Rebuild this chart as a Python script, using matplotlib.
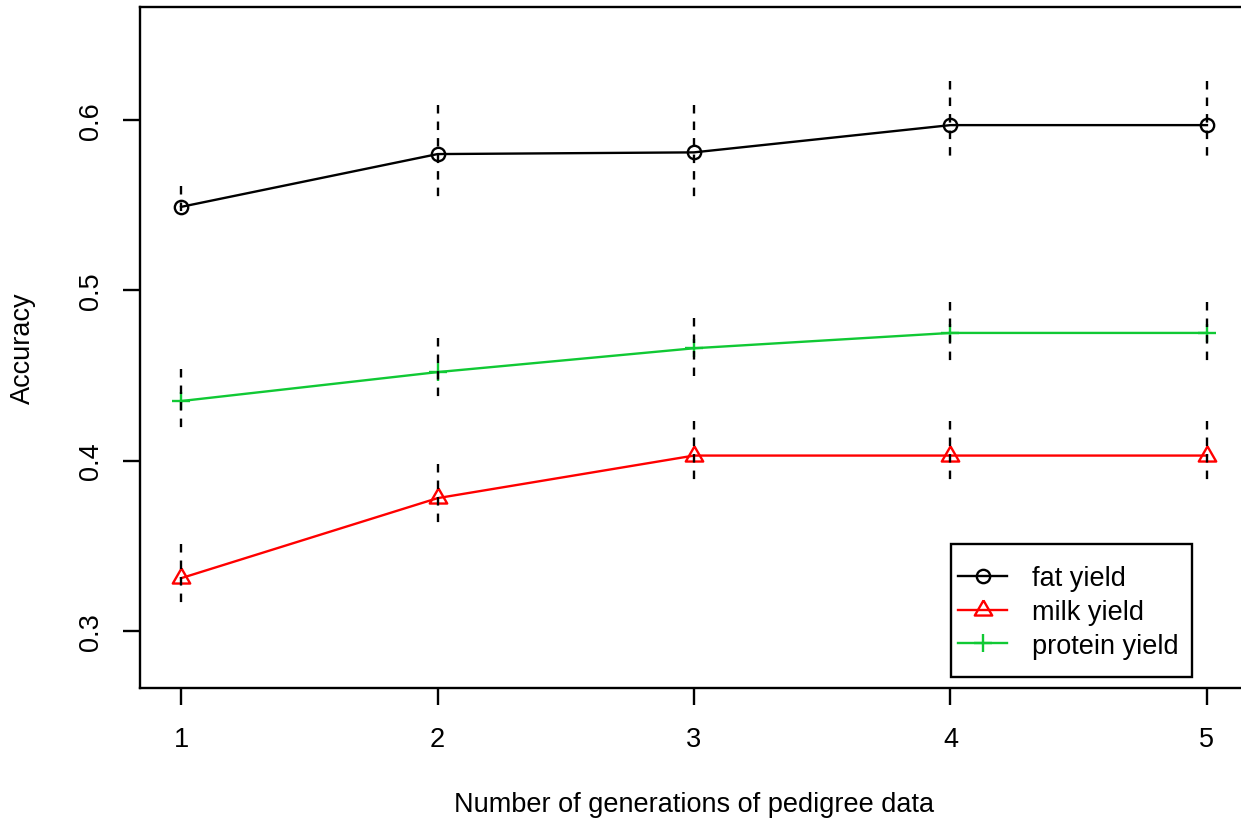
import matplotlib
matplotlib.use("Agg")
import matplotlib.pyplot as plt
from matplotlib.lines import Line2D
from matplotlib.patches import Rectangle

# values
generations = [1, 2, 3, 4, 5]

fat = [0.549, 0.580, 0.581, 0.597, 0.597]
fat_lo = [0.544, 0.552, 0.553, 0.575, 0.575]
fat_hi = [0.561, 0.609, 0.609, 0.623, 0.623]

milk = [0.331, 0.378, 0.403, 0.403, 0.403]
milk_lo = [0.314, 0.360, 0.386, 0.386, 0.386]
milk_hi = [0.351, 0.398, 0.423, 0.423, 0.423]

protein = [0.435, 0.452, 0.466, 0.475, 0.475]
protein_lo = [0.417, 0.434, 0.450, 0.457, 0.457]
protein_hi = [0.454, 0.472, 0.484, 0.493, 0.493]

labels = ["fat yield", "milk yield", "protein yield"]
y_ticks = [0.3, 0.4, 0.5, 0.6]

RED = "#FF0000"
GREEN = "#10C934"
# R style open triangle (pch = 2), centred on its circumcentre
TRIANGLE = [(0, 1), (-0.866, -0.5), (0.866, -0.5), (0, 1)]

plt.rcParams["font.family"] = ["Liberation Sans", "DejaVu Sans"]
plt.rcParams["font.size"] = 19.5

W, H = 1241, 820
fig = plt.figure(figsize=(W / 100, H / 100), dpi=100)
ax = fig.add_axes([140 / W, 1 - 689 / H, (1248 - 140) / W, (689 - 7.5) / H])

lw = 1.7
ax.plot(generations, fat, color="black", lw=lw, marker="o", ms=9.6,
        mfc="none", mew=lw, zorder=2)
ax.plot(generations, milk, color=RED, lw=lw, marker=TRIANGLE, ms=14.5,
        mfc="none", mew=lw, zorder=2)
ax.plot(generations, protein, color=GREEN, lw=lw, marker="+", ms=13.2,
        mew=lw, zorder=2)

# dashed error bars, drawn on top of the lines
for lo, hi in [(fat_lo, fat_hi), (milk_lo, milk_hi), (protein_lo, protein_hi)]:
    ax.vlines(generations, hi, lo, colors="black", linestyles=(0, (3.6, 3.4)),
              lw=lw, zorder=3)

ax.set_xlim(0.84, 5.16)
ax.set_ylim(0.26654, 0.66664)
ax.set_xticks(generations)
ax.set_yticks(y_ticks)
ax.set_yticklabels([f"{v:.1f}" for v in y_ticks], rotation=90, va="center")

for s in ax.spines.values():
    s.set_linewidth(lw)
ax.tick_params(length=12.2, width=lw, direction="out", color="black")
ax.tick_params(axis="x", pad=15)
ax.tick_params(axis="y", pad=14)

ax.set_xlabel("Number of generations of pedigree data")
ax.set_ylabel("Accuracy")
ax.xaxis.set_label_coords(0.5, (689 - 792) / 681.5)
ax.yaxis.set_label_coords((36 - 140) / 1108, 0.5)

handles = [
    Line2D([], [], color="black", lw=lw, marker="o", ms=9.6, mfc="none", mew=lw),
    Line2D([], [], color=RED, lw=lw, marker=TRIANGLE, ms=14.5, mfc="none", mew=lw),
    Line2D([], [], color=GREEN, lw=lw, marker="+", ms=13.2, mew=lw),
]
ax.legend(handles, labels, loc="center left",
          bbox_to_anchor=(958 / W, 1 - 613 / H), bbox_transform=fig.transFigure,
          frameon=False, borderpad=0, borderaxespad=0, numpoints=1,
          handlelength=1.81, handletextpad=0.93, labelspacing=0.28)
ax.add_patch(Rectangle((951 / W, 1 - 678 / H), 241 / W, 133 / H,
                       transform=fig.transFigure, fill=False, ec="black",
                       lw=lw, zorder=6, clip_on=False))

fig.savefig("out.png", dpi=100)
